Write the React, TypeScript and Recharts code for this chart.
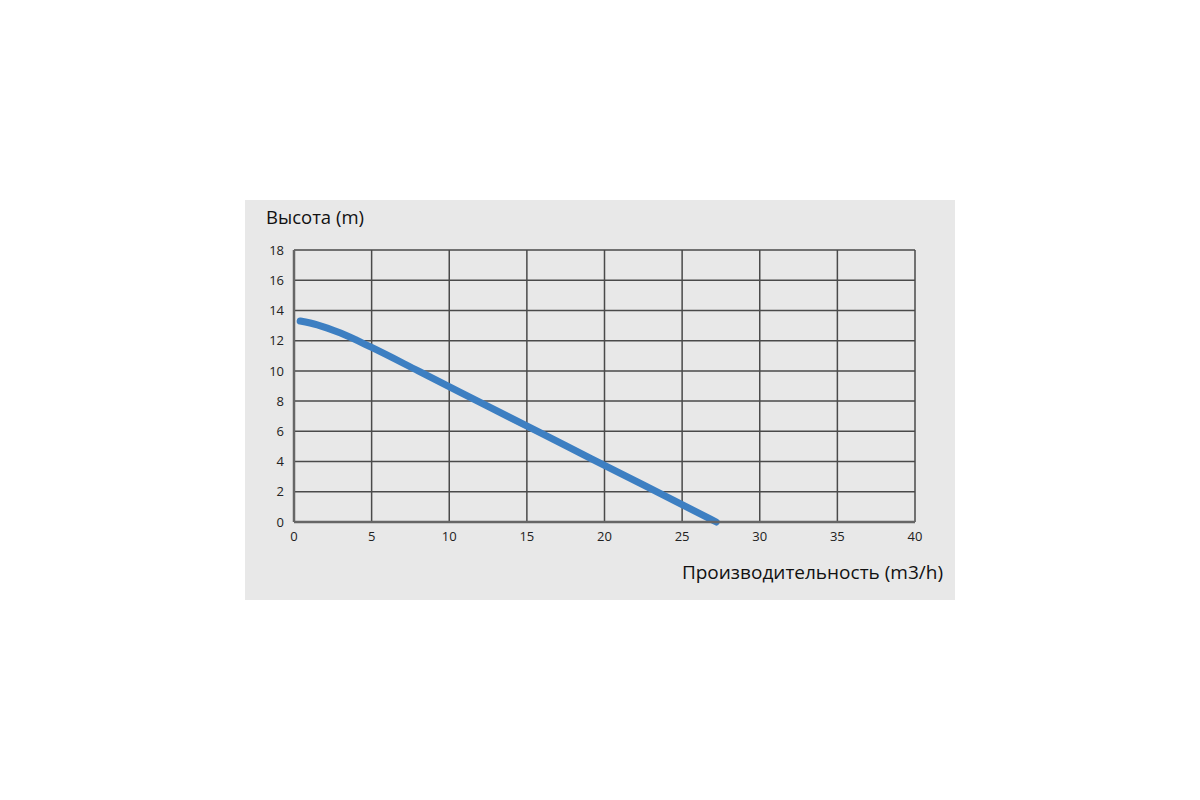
import { LineChart, Line, XAxis, YAxis, CartesianGrid } from 'recharts';

const flow = [0.4, 1.5, 3, 5, 8, 12.5, 17.5, 22.5, 27.2];
const head = [13.3, 13.05, 12.5, 11.55, 10.0, 7.65, 5.05, 2.45, 0];
const xTicks = [0, 5, 10, 15, 20, 25, 30, 35, 40];
const yTicks = [0, 2, 4, 6, 8, 10, 12, 14, 16, 18];

const data = flow.map((q, i) => ({ q, h: head[i] }));

const font = '"Open Sans", sans-serif';

function App() {
  return (
    <div
      style={{
        position: 'absolute',
        left: 245,
        top: 200,
        width: 710,
        height: 400,
        background: '#e8e8e8',
        fontFamily: font,
      }}
    >
      <div style={{ position: 'absolute', left: 21, top: 4, fontSize: 18.5, color: '#111' }}>
        Высота (m)
      </div>
      <div style={{ position: 'absolute', right: 12, top: 359, fontSize: 19, color: '#111' }}>
        Производительность (m3/h)
      </div>
      <LineChart width={710} height={400} data={data} margin={{ top: 50, right: 40, left: 0, bottom: 0 }}>
        <CartesianGrid stroke="#4a4a4a" strokeWidth={1.5} />
        <XAxis
          dataKey="q"
          type="number"
          domain={[0, 40]}
          ticks={xTicks}
          height={78}
          tickLine={false}
          axisLine={{ stroke: '#666', strokeWidth: 2.5 }}
          tick={{ fill: '#222', fontSize: 13, fontFamily: font }}
          tickMargin={4}
        />
        <YAxis
          type="number"
          domain={[0, 18]}
          ticks={yTicks}
          width={49}
          tickLine={false}
          axisLine={{ stroke: '#666', strokeWidth: 2.5 }}
          tick={{ fill: '#222', fontSize: 13, fontFamily: font }}
          tickMargin={4}
        />
        <Line
          type="monotone"
          dataKey="h"
          stroke="#3d7fc2"
          strokeWidth={7}
          strokeLinecap="round"
          dot={false}
          isAnimationActive={false}
        />
      </LineChart>
    </div>
  );
}

export default App;
